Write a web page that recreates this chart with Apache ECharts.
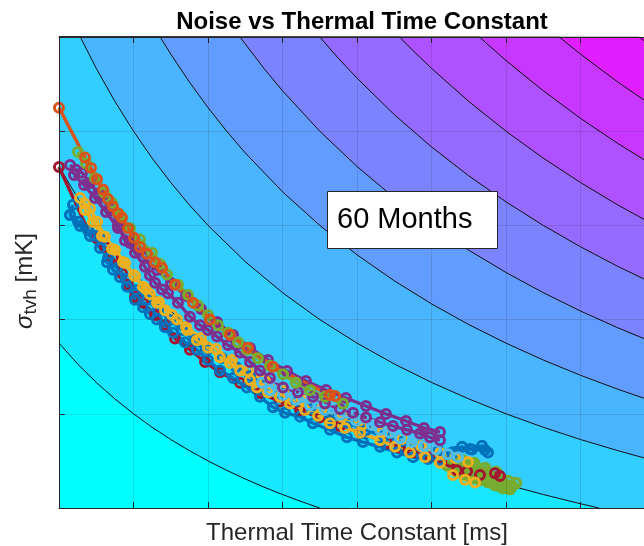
<!DOCTYPE html>
<html><head><meta charset="utf-8">
<script src="https://cdn.jsdelivr.net/npm/echarts@6/dist/echarts.min.js"></script>
<style>html,body{margin:0;padding:0;background:#fff}#c{width:644px;height:546px}</style>
</head><body><div id="c"></div>
<script>
// ---------- axes ----------
const xRange = [0, 8];
const yRange = [0, 5];
const titleText = 'Noise vs Thermal Time Constant';
const xLabel = 'Thermal Time Constant [ms]';
const annotationText = '60 Months';

// ---------- contour lines (filled-contour background) ----------
const contourLevels = [15, 22.5, 30, 37.5, 45, 52.5, 60, 67.5, 75, 82.5];
const contour15 = [[0,1.75],[0.25,1.529],[0.5,1.333],[0.75,1.158],[1,1],[1.25,0.857],[1.5,0.727],[1.75,0.609],[2,0.5],[2.25,0.4],[2.5,0.308],[2.75,0.222],[3,0.143],[3.25,0.069],[3.5,0]];
const contour22 = [[0,3.625],[0.25,3.294],[0.5,3],[0.75,2.737],[1,2.5],[1.25,2.286],[1.5,2.091],[1.75,1.913],[2,1.75],[2.5,1.462],[3,1.214],[3.5,1],[4,0.813],[4.5,0.647],[5,0.5],[5.5,0.368],[6,0.25],[6.5,0.143],[7,0.045],[7.25,0]];
const contour30 = [[0.286,5],[0.5,4.667],[0.75,4.316],[1,4],[1.25,3.714],[1.5,3.455],[1.75,3.217],[2,3],[2.5,2.615],[3,2.286],[3.5,2],[4,1.75],[4.5,1.529],[5,1.333],[5.5,1.158],[6,1],[6.5,0.857],[7,0.727],[7.5,0.609],[8,0.5]];
const contour37 = [[1.357,5],[1.5,4.818],[1.75,4.522],[2,4.25],[2.25,4],[2.5,3.769],[3,3.357],[3.5,3],[4,2.688],[4.5,2.412],[5,2.167],[5.5,1.947],[6,1.75],[6.5,1.571],[7,1.409],[7.5,1.261],[8,1.125]];
const contour45 = [[2.429,5],[2.75,4.667],[3,4.429],[3.5,4],[4,3.625],[4.5,3.294],[5,3],[5.5,2.737],[6,2.5],[6.5,2.286],[7,2.091],[7.5,1.913],[8,1.75]];
const contour52 = [[3.5,5],[3.75,4.774],[4,4.563],[4.5,4.176],[5,3.833],[5.5,3.526],[6,3.25],[6.5,3],[7,2.773],[7.5,2.565],[8,2.375]];
const contour60 = [[4.571,5],[4.75,4.857],[5,4.667],[5.5,4.316],[6,4],[6.5,3.714],[7,3.455],[7.5,3.217],[8,3]];
const contour67 = [[5.643,5],[6,4.75],[6.5,4.429],[7,4.136],[7.5,3.87],[8,3.625]];
const contour75 = [[6.714,5],[7,4.818],[7.5,4.522],[8,4.25]];
const contour82 = [[7.786,5],[8,4.875]];

// ---------- measured runs (sigma vs time constant) ----------
const runNames = ['Run 1','Run 2','Run 3','Run 4','Run 5','Run 6','Run 7','Run 8','Run 9','Run 10','Run 11'];
const runBlue = [[0.188,3.22],[0.148,3.11],[0.255,3.04],[0.389,2.95],[0.483,2.89],[0.577,2.85],[0.644,2.61],[0.725,2.53],[0.819,2.45],[0.913,2.35],[1.02,2.21],[1.128,2.13],[1.221,2.06],[1.315,2.0],[1.423,1.92],[1.53,1.86],[1.691,1.76],[1.852,1.68],[2.0,1.57],[2.161,1.46],[2.336,1.38],[2.523,1.28],[2.698,1.18],[2.872,1.07],[3.034,1.01],[3.235,0.97],[3.409,0.9],[3.638,0.83],[3.866,0.75],[4.081,0.7],[4.309,0.65],[4.537,0.59],[4.752,0.54],[4.953,0.52],[5.114,0.51],[5.275,0.59],[5.409,0.65],[5.544,0.62],[5.678,0.66],[5.758,0.59]];
const runBlue2 = [[0.148,3.11],[0.282,2.994],[0.416,2.887],[0.55,2.76],[0.658,2.654],[0.779,2.548],[0.899,2.431],[1.034,2.314],[1.181,2.208],[1.329,2.102],[1.49,1.996],[1.651,1.89],[1.826,1.783],[2.0,1.688],[2.188,1.592],[2.376,1.497],[2.564,1.401],[2.765,1.306],[2.966,1.221],[3.181,1.136],[3.396,1.051],[3.638,0.977],[3.879,0.902],[4.121,0.828],[4.362,0.764],[4.604,0.711],[4.846,0.658],[5.087,0.616],[5.315,0.594],[5.517,0.626],[5.718,0.616]];
const runOrange = [[0,4.25],[0.349,3.72],[0.43,3.61],[0.51,3.49],[0.591,3.38],[0.658,3.28],[0.725,3.2],[0.792,3.13],[0.846,3.08],[0.926,2.97],[1.007,2.87],[1.087,2.77],[1.181,2.7],[1.289,2.61],[1.383,2.55],[1.557,2.37],[1.799,2.18],[2.027,2.0],[2.295,1.84],[2.537,1.7],[2.872,1.5],[3.638,1.2],[3.705,1.19]];
const runYellow = [[0.282,3.29],[0.349,3.23],[0.416,3.18],[0.51,3.04],[0.617,2.88],[0.752,2.74],[0.886,2.6],[1.02,2.46],[1.128,2.35],[1.221,2.27],[1.315,2.18],[1.423,2.1],[1.584,2.0],[1.718,1.89],[1.852,1.78],[2.0,1.7],[2.161,1.6],[2.295,1.54],[2.43,1.46],[2.564,1.36],[2.658,1.28],[2.805,1.23],[2.966,1.18],[3.101,1.11],[3.302,1.04],[3.477,0.98],[3.638,0.9],[3.839,0.85],[4.04,0.8],[4.309,0.72],[4.51,0.65],[4.711,0.59],[4.913,0.54],[5.114,0.48],[5.289,0.35],[5.45,0.3],[5.584,0.27]];
const runYellow2 = [[0.349,3.163],[0.456,3.036],[0.577,2.887],[0.711,2.749],[0.859,2.611],[1.007,2.473],[1.168,2.325],[1.342,2.187],[1.517,2.049],[1.705,1.921],[1.906,1.805],[2.107,1.688],[2.322,1.571],[2.537,1.454],[2.765,1.348],[3.007,1.242],[3.262,1.146],[3.53,1.051],[3.799,0.966],[4.067,0.881],[4.336,0.807],[4.604,0.732],[4.859,0.658],[5.114,0.584],[5.315,0.531],[5.49,0.488]];
const runPurple = [[0.148,3.64],[0.228,3.59],[0.309,3.56],[0.416,3.45],[0.523,3.34],[0.617,3.24],[0.711,3.16],[0.792,3.0],[0.886,2.84],[1.02,2.71],[1.154,2.56],[1.221,2.47],[1.289,2.39],[1.383,2.32],[1.463,2.28],[1.597,2.18],[1.758,2.03],[1.893,1.94],[2.0,1.89],[2.121,1.82],[2.268,1.73],[2.43,1.65],[2.564,1.55],[2.698,1.46],[2.832,1.38],[3.007,1.28],[3.208,1.23],[3.409,1.18],[3.57,1.11],[3.772,1.05],[3.946,1.01],[4.121,0.96],[4.309,0.91],[4.483,0.87],[4.671,0.83],[4.846,0.79],[4.98,0.75],[5.114,0.72]];
const runPurple2 = [[0.201,3.535],[0.336,3.429],[0.483,3.291],[0.631,3.142],[0.792,2.972],[0.953,2.813],[1.128,2.665],[1.315,2.527],[1.503,2.389],[1.705,2.251],[1.906,2.113],[2.121,1.975],[2.336,1.837],[2.564,1.699],[2.805,1.571],[3.06,1.454],[3.315,1.348],[3.584,1.253],[3.852,1.168],[4.121,1.083],[4.389,0.998],[4.658,0.924],[4.899,0.849],[5.114,0.807]];
const runGreen = [[0.255,3.78],[0.362,3.66],[0.483,3.5],[0.604,3.35],[0.711,3.24],[0.819,3.11],[0.953,2.97],[1.087,2.85],[1.248,2.71],[1.356,2.59],[1.45,2.48],[1.597,2.37],[1.732,2.26],[1.866,2.15],[2.0,2.05],[2.134,1.94],[2.268,1.86],[2.403,1.76],[2.523,1.68],[2.671,1.59],[2.832,1.51],[3.007,1.42],[3.181,1.33],[3.369,1.25],[3.57,1.18],[3.812,1.11]];
const runLightBlue = [[2.725,1.33],[2.832,1.25],[2.913,1.3],[3.007,1.2],[3.101,1.23],[3.181,1.15],[3.275,1.18],[3.369,1.09],[3.477,1.11],[3.57,1.04],[3.678,1.06],[3.772,0.99],[3.879,1.01],[3.987,0.93],[4.094,0.96],[4.201,0.88],[4.309,0.83],[4.443,0.8],[4.577,0.74],[4.738,0.7],[4.899,0.66],[5.06,0.62],[5.221,0.57],[5.356,0.54]];
const runRed = [[0,3.62],[0.389,2.95],[0.497,2.87],[0.617,2.77],[0.725,2.65],[0.846,2.49],[0.926,2.37],[1.02,2.24],[1.128,2.18],[1.289,2.05],[1.423,1.94],[1.557,1.8],[1.758,1.68],[1.96,1.55],[2.161,1.44],[2.43,1.33],[2.698,1.22],[2.966,1.13],[3.235,1.04],[3.503,0.96],[3.772,0.87],[4.04,0.8],[4.403,0.69],[4.577,0.64],[4.752,0.59],[4.98,0.54],[5.114,0.53],[5.248,0.49],[5.342,0.4],[5.477,0.39],[5.651,0.35],[5.852,0.37],[5.919,0.34]];
const runGreen2 = [[5.208,0.456],[5.289,0.488],[5.356,0.425],[5.409,0.51],[5.477,0.446],[5.517,0.382],[5.57,0.478],[5.624,0.403],[5.664,0.34],[5.718,0.425],[5.758,0.361],[5.812,0.318],[5.866,0.382],[5.919,0.297],[5.973,0.255],[6.027,0.287],[6.081,0.234],[6.134,0.265],[6.054,0.202],[5.96,0.212],[5.852,0.244],[5.758,0.276],[5.651,0.297],[5.544,0.318],[5.45,0.361],[5.356,0.382],[5.315,0.425],[5.409,0.382],[5.517,0.425],[5.624,0.361],[5.732,0.318],[5.839,0.297],[5.946,0.265],[6.027,0.234],[5.919,0.234],[5.785,0.276],[5.651,0.329],[5.517,0.35],[5.409,0.446],[5.584,0.446],[5.718,0.382]];

// ---------- styles ----------
const bandColors = ['#00FFFF','#17E8FF','#31CEFF','#4AB5FF','#639CFF','#7C83FF','#956AFF','#AE51FF','#C837FF','#E11EFF'];
const topBandColor = '#F608FF';
const axisColor = '#262626';
const FONT = '"Liberation Sans", Arial, Helvetica, sans-serif';

const contours = [contour15, contour22, contour30, contour37, contour45, contour52, contour60, contour67, contour75, contour82];

const series = [];
for (let i = contours.length - 1; i >= 0; i--) {
  let pts = contours[i].slice();
  if (pts[0][1] === yRange[1] && pts[0][0] > xRange[0]) pts = [[xRange[0], yRange[1]]].concat(pts);
  series.push({
    type: 'line', name: 'level ' + contourLevels[i], data: pts, symbol: 'none', silent: true,
    lineStyle: { color: '#111', width: 1 },
    areaStyle: { color: bandColors[i], opacity: 1 },
    z: 1
  });
}

const runs = [
  [runGreen2, '#77AC30', 3.6],
  [runRed, '#A2142F', 3],
  [runBlue2, '#0072BD', 3],
  [runBlue, '#0072BD', 3],
  [runYellow2, '#EDB120', 3],
  [runYellow, '#EDB120', 3],
  [runLightBlue, '#4DBEEE', 3],
  [runPurple2, '#7E2F8E', 3],
  [runPurple, '#7E2F8E', 3],
  [runGreen, '#77AC30', 3],
  [runOrange, '#D95319', 3]
];
runs.forEach((r, k) => {
  series.push({
    type: 'line', name: runNames[k], data: r[0],
    symbol: 'circle', symbolSize: 9,
    lineStyle: { color: r[1], width: 3.4 },
    itemStyle: { color: 'rgba(0,0,0,0)', borderColor: r[1], borderWidth: r[2] },
    emphasis: { disabled: true },
    z: 2
  });
});

const chart = echarts.init(document.getElementById('c'), null, { renderer: 'canvas' });
chart.setOption({
  animation: false,
  backgroundColor: '#fff',
  title: {
    text: titleText, left: 357, top: 5, textAlign: 'center',
    textStyle: { fontFamily: FONT, fontWeight: 'bold', fontSize: 24, color: '#000' }
  },
  grid: { left: 59, top: 37, width: 596, bottom: 38, outerBoundsMode: 'none', show: true, backgroundColor: topBandColor, borderWidth: 0 },
  xAxis: [{
    type: 'value', min: xRange[0], max: xRange[1], interval: 1, position: 'bottom', z: 5,
    name: xLabel, nameLocation: 'middle', nameGap: 13,
    nameTextStyle: { fontFamily: FONT, fontSize: 24, color: axisColor },
    axisLine: { show: true, lineStyle: { color: axisColor, width: 1 } },
    axisTick: { show: true, inside: true, length: 6, lineStyle: { color: axisColor } },
    axisLabel: { show: false },
    splitLine: { show: true, lineStyle: { color: 'rgba(38,38,38,0.15)', width: 1 } }
  }, {
    type: 'value', min: xRange[0], max: xRange[1], interval: 1, position: 'top', z: 5,
    axisLine: { show: true, lineStyle: { color: axisColor, width: 1 } },
    axisTick: { show: true, inside: true, length: 6, lineStyle: { color: axisColor } },
    axisLabel: { show: false }, splitLine: { show: false }
  }],
  yAxis: [{
    type: 'value', min: yRange[0], max: yRange[1], interval: 1, z: 5,
    axisLine: { show: true, lineStyle: { color: axisColor, width: 1 } },
    axisTick: { show: true, inside: true, length: 6, lineStyle: { color: axisColor } },
    axisLabel: { show: false },
    splitLine: { show: true, lineStyle: { color: 'rgba(38,38,38,0.15)', width: 1 } }
  }],
  graphic: [
    {
      type: 'text', x: 25, y: 281, rotation: Math.PI / 2, z: 10,
      style: {
        text: '{s|σ}{b|tvh}{n| [mK]}',
        align: 'center', verticalAlign: 'middle', fill: axisColor,
        rich: {
          s: { fontFamily: FONT, fontSize: 24, fontStyle: 'italic', fill: axisColor, lineHeight: 30, verticalAlign: 'middle' },
          b: { fontFamily: FONT, fontSize: 19, fill: axisColor, lineHeight: 22, verticalAlign: 'bottom' },
          n: { fontFamily: FONT, fontSize: 24, fill: axisColor, lineHeight: 30, verticalAlign: 'middle' }
        }
      }
    },
    {
      type: 'rect', z: 10,
      shape: { x: 327.5, y: 191.5, width: 170, height: 57 },
      style: { fill: '#fff', stroke: axisColor, lineWidth: 1 }
    },
    {
      type: 'text', z: 11, x: 337, y: 220,
      style: { text: annotationText, fontFamily: FONT, fontSize: 29, fill: '#000', verticalAlign: 'middle', align: 'left' }
    }
  ],
  series: series
});
</script></body></html>
